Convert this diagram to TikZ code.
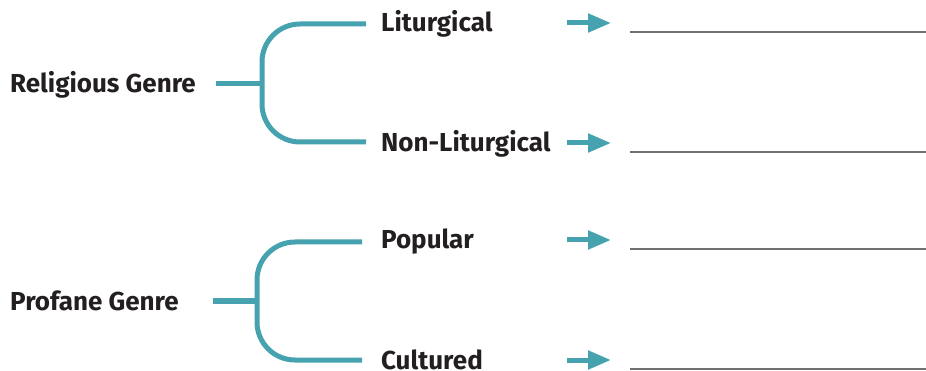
\documentclass[tikz,border=0pt]{standalone}
\usepackage{fontspec}
\setmainfont{Fira Sans}
\usepackage{xcolor}
\usetikzlibrary{arrows.meta}
\definecolor{teal}{HTML}{45A2AE}
\definecolor{ink}{HTML}{231F20}
\definecolor{rule}{HTML}{707070}
\tikzset{
  genre/.style={anchor=west, inner sep=0pt, text=ink, font=\fontsize{26}{30}\selectfont\bfseries},
  kind/.style={anchor=west, inner sep=0pt, text=ink, font=\fontsize{26}{30}\selectfont\bfseries},
  fork/.style={draw=teal, line width=5pt, rounded corners=38pt},
  stub/.style={draw=teal, line width=5pt},
  pointer/.style={draw=teal, line width=5pt, -{Triangle[length=23pt,width=18pt]}},
  blank/.style={draw=rule, line width=1.3pt}
}
\begin{document}
\begin{tikzpicture}[x=1pt,y=-1pt]
      \useasboundingbox (0,0) rectangle (926,371);
      % genres
      \node[genre] (relig) at (10, 85) {Religious Genre};
      \node[genre] (prof) at (10, 301) {Profane Genre};
      % kinds
      \node[kind] (litur) at (381, 24) {Liturgical};
      \node[kind] (nonlit) at (381, 144) {Non-Liturgical};
      \node[kind] (popul) at (381, 242) {Popular};
      \node[kind] (cult) at (381, 360) {Cultured};
      % forks
      \coordinate (rfork) at (262, 84);
      \coordinate (pfork) at (257, 301);
      \coordinate (rtop) at (262, 24);
      \coordinate (rbot) at (262, 142);
      \coordinate (ptop) at (257, 242);
      \coordinate (pbot) at (257, 360);
      \draw[stub] ([xshift=20pt]relig.east |- rfork) -- (rfork);
      \draw[fork] ([xshift=-15pt]litur.west |- rtop) -- (rtop) -- (rbot) -- ([xshift=-15pt]nonlit.west |- rbot);
      \draw[stub] ([xshift=34pt]prof.east |- pfork) -- (pfork);
      \draw[fork] ([xshift=-19pt]popul.west |- ptop) -- (ptop) -- (pbot) -- ([xshift=-19pt]cult.west |- pbot);
      % arrows and blanks
      \foreach \y/\n in {23/a, 143/b, 240/c, 360/d} {
        \coordinate (\n s) at (567, \y);
        \coordinate (\n e) at (611, \y);
        \coordinate (\n l) at (630, \y+9);
        \coordinate (\n r) at (926, \y+9);
        \draw[pointer] (\n s) -- (\n e);
        \draw[blank] (\n l) -- (\n r);
      }
    \end{tikzpicture}
\end{document}
